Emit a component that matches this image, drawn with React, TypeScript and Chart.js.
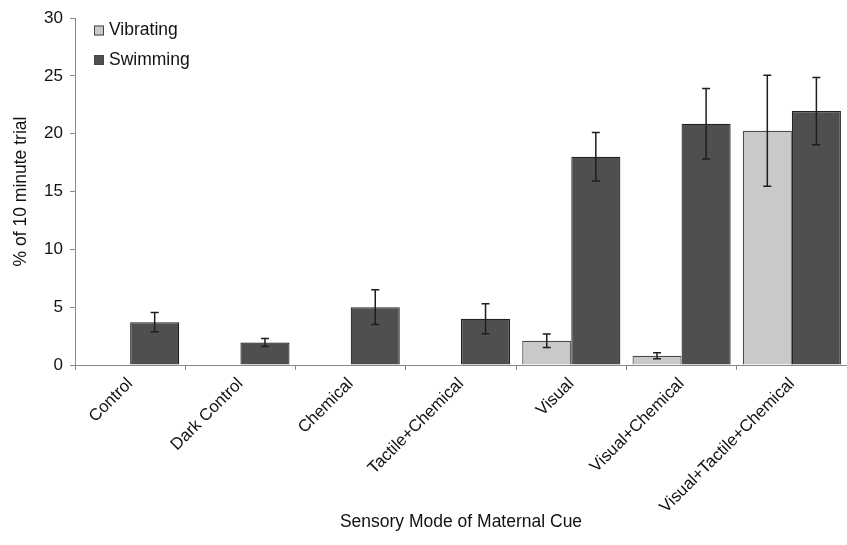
import React, { useEffect, useRef } from "react";
import { Chart, registerables } from "chart.js";

Chart.register(...registerables);

const categories = [
  "Control",
  "Dark Control",
  "Chemical",
  "Tactile+Chemical",
  "Visual",
  "Visual+Chemical",
  "Visual+Tactile+Chemical",
];
const seriesNames = ["Vibrating", "Swimming"];
const vibrating = [0, 0, 0, 0, 2.1, 0.8, 20.25];
const vibratingErr = [0, 0, 0, 0, 0.58, 0.26, 4.8];
const swimming = [3.7, 1.95, 5.0, 4.0, 18.0, 20.85, 21.95];
const swimmingErr = [0.83, 0.35, 1.5, 1.3, 2.1, 3.05, 2.9];
const yTicks = [0, 5, 10, 15, 20, 25, 30];

const FONT = "'Liberation Sans', Arial, Helvetica, sans-serif";

const errorBarPlugin = {
  id: "errorBars",
  afterDatasetsDraw(chart: any) {
    const ctx = chart.ctx;
    const yScale = chart.scales.y;
    chart.data.datasets.forEach((ds: any, i: number) => {
      const meta = chart.getDatasetMeta(i);
      const errs: number[] = ds.errors || [];
      meta.data.forEach((bar: any, j: number) => {
        const v = ds.data[j];
        const e = errs[j];
        if (!e) return;
        const yTop = yScale.getPixelForValue(v + e);
        const yBot = yScale.getPixelForValue(Math.max(v - e, 0));
        const x = bar.x;
        ctx.save();
        ctx.strokeStyle = "#1e1e1e";
        ctx.lineWidth = 1.5;
        ctx.beginPath();
        ctx.moveTo(x, yTop);
        ctx.lineTo(x, yBot);
        ctx.moveTo(x - 4, yTop);
        ctx.lineTo(x + 4, yTop);
        ctx.moveTo(x - 4, yBot);
        ctx.lineTo(x + 4, yBot);
        ctx.stroke();
        ctx.restore();
      });
    });
  },
};

const legendPlugin = {
  id: "insideLegend",
  afterDraw(chart: any) {
    const ctx = chart.ctx;
    const x0 = 94;
    const rows = [30.5, 60];
    ctx.save();
    chart.data.datasets.forEach((ds: any, i: number) => {
      const cy = rows[i];
      ctx.fillStyle = ds.backgroundColor;
      ctx.strokeStyle = "#444";
      ctx.lineWidth = 1;
      ctx.fillRect(x0, cy - 5, 10, 10);
      ctx.strokeRect(x0 + 0.5, cy - 4.5, 9, 9);
      ctx.fillStyle = "#111";
      ctx.font = `17.5px ${FONT}`;
      ctx.textBaseline = "middle";
      ctx.textAlign = "left";
      ctx.fillText(ds.label, x0 + 15, cy);
    });
    ctx.restore();
  },
};

export default function App() {
  const canvasRef = useRef<HTMLCanvasElement | null>(null);

  useEffect(() => {
    document.body.style.margin = "0";
    document.body.style.overflow = "hidden";
    const canvas = canvasRef.current;
    if (!canvas) return;
    const chart = new Chart(canvas, {
      type: "bar",
      data: {
        labels: categories,
        datasets: [
          {
            label: seriesNames[0],
            data: vibrating,
            errors: vibratingErr,
            backgroundColor: "#c9c9c9",
            borderColor: "#4a4a4a",
            borderWidth: 1.2,
          } as any,
          {
            label: seriesNames[1],
            data: swimming,
            errors: swimmingErr,
            backgroundColor: "#4f4f4f",
            borderColor: "#222222",
            borderWidth: 1.2,
          } as any,
        ],
      },
      options: {
        animation: false,
        responsive: true,
        maintainAspectRatio: false,
        layout: { padding: { top: 18, left: 0, right: 0, bottom: 0 } },
        datasets: {
          bar: { categoryPercentage: 0.89, barPercentage: 1.0 },
        },
        plugins: {
          legend: { display: false },
          tooltip: { enabled: false },
        },
        scales: {
          x: {
            grid: {
              display: true,
              offset: true,
              drawOnChartArea: false,
              drawTicks: true,
              tickLength: 5,
              color: "#8a8a8a",
            },
            border: { display: true, color: "#8a8a8a", width: 1 },
            ticks: {
              maxRotation: 45,
              minRotation: 45,
              autoSkip: false,
              padding: 4,
              color: "#111",
              font: { family: FONT, size: 16.8 },
            },
            title: {
              display: true,
              text: "Sensory Mode of Maternal Cue",
              color: "#111",
              font: { family: FONT, size: 17.5 },
              padding: { top: 0, bottom: 12.5 },
            },
            afterFit(scale: any) {
              scale.height = 180;
            },
          },
          y: {
            min: 0,
            max: 30,
            afterBuildTicks(scale: any) {
              scale.ticks = yTicks.map((v) => ({ value: v }));
            },
            grid: {
              display: true,
              drawOnChartArea: false,
              drawTicks: true,
              tickLength: 5,
              color: "#8a8a8a",
            },
            border: { display: true, color: "#8a8a8a", width: 1 },
            ticks: {
              padding: 7,
              color: "#111",
              font: { family: FONT, size: 17 },
            },
            title: {
              display: true,
              text: "% of 10 minute trial",
              color: "#111",
              font: { family: FONT, size: 17.5 },
              padding: { top: 10.5, bottom: 0 },
            },
            afterFit(scale: any) {
              scale.width = 75;
            },
          },
        },
      } as any,
      plugins: [errorBarPlugin, legendPlugin],
    });
    return () => chart.destroy();
  }, []);

  return (
    <div style={{ position: "relative", width: 847, height: 545, background: "#fff" }}>
      <canvas ref={canvasRef} />
    </div>
  );
}
